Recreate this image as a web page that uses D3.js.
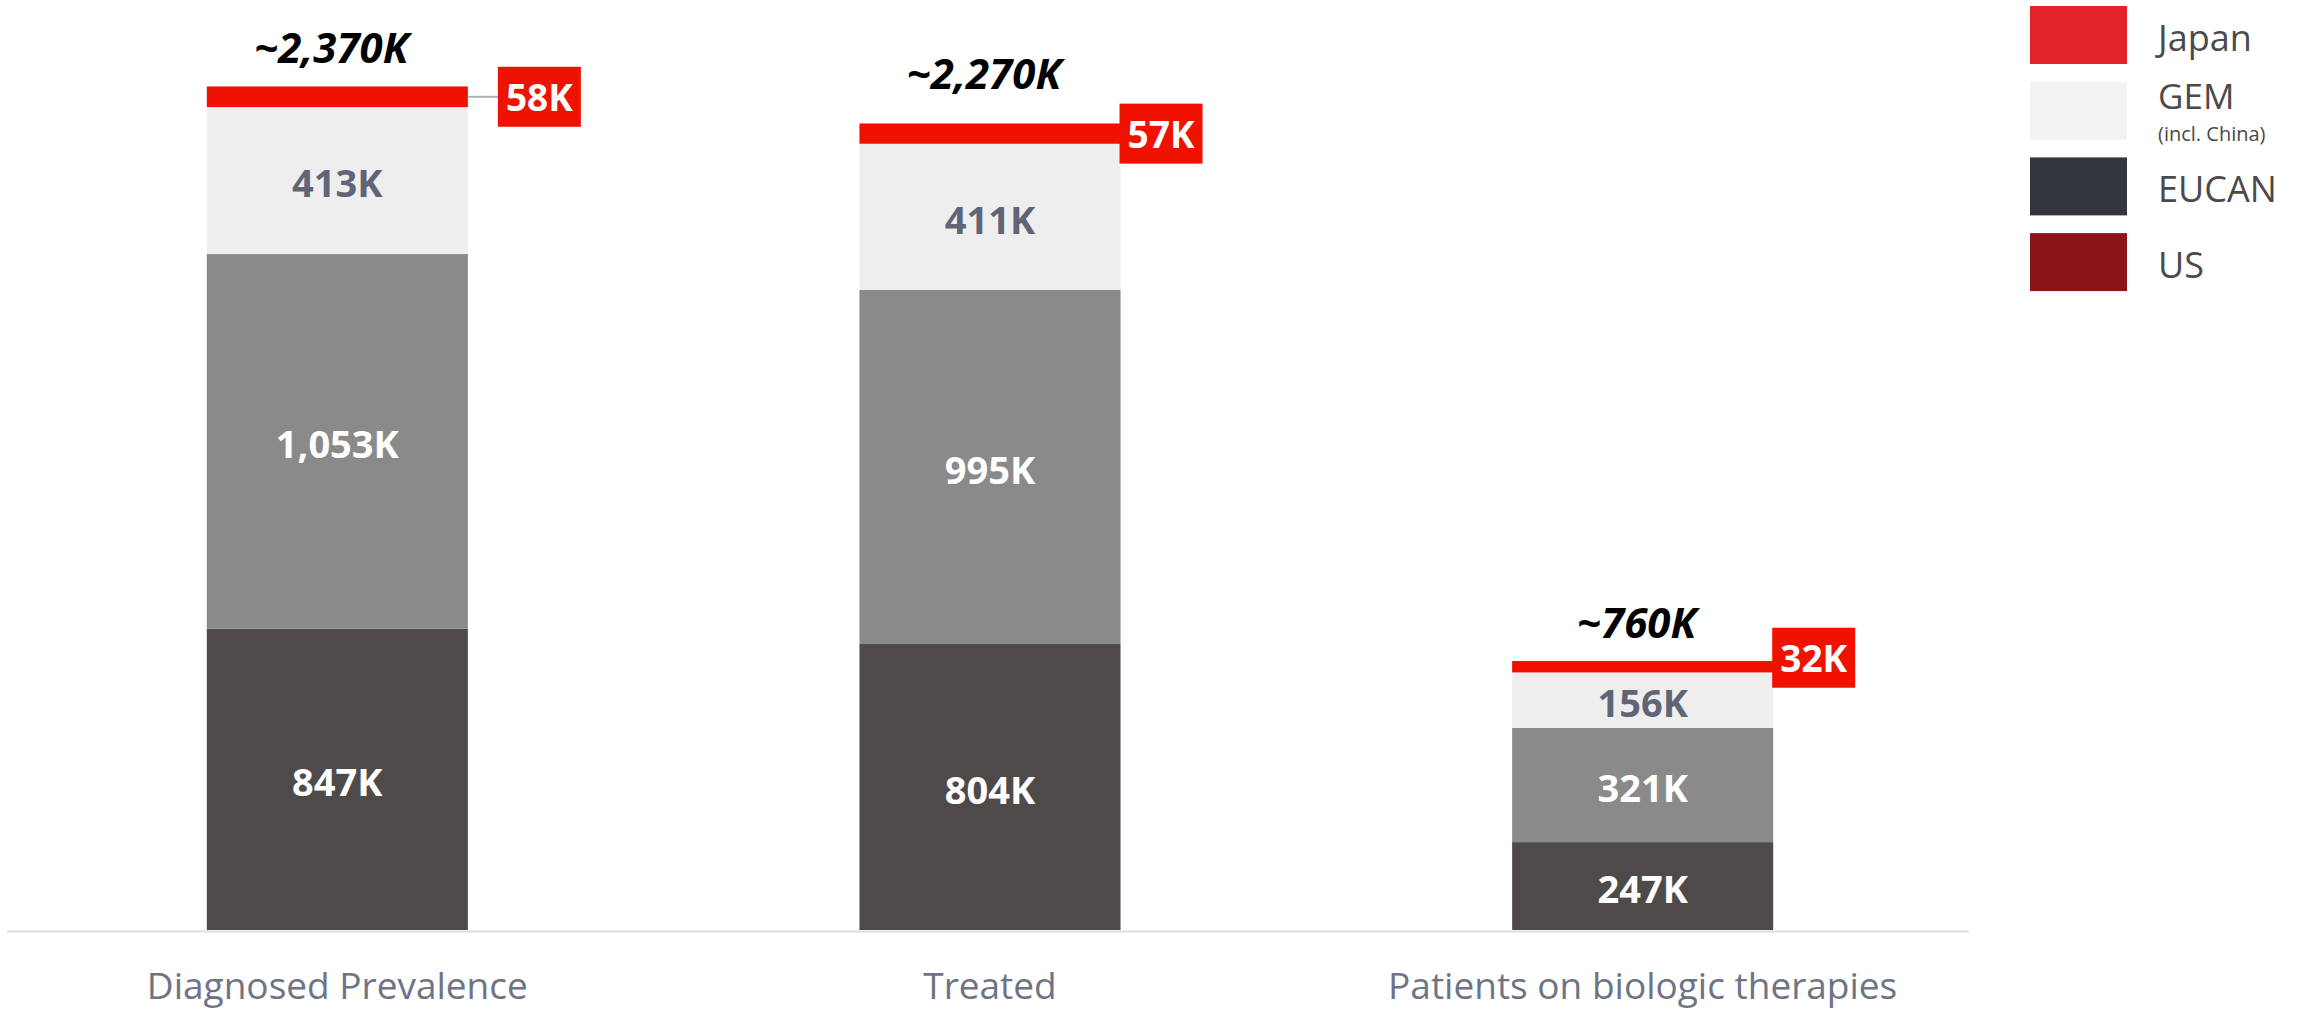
<!DOCTYPE html>
<meta charset="utf-8">
<style>
body { margin: 0; background: #fff; }
text { font-family: "Open Sans", sans-serif; }
.seg text { font-weight: 700; text-anchor: middle; }
.total { font-weight: 700; font-style: italic; text-anchor: middle; fill: #000; }
.cat { fill: #6e7485; text-anchor: middle; }
.legend text { fill: #4a4a4a; }
</style>
<svg width="2310" height="1009"></svg>
<script src="https://d3js.org/d3.v7.min.js"></script>
<script>

var categories = ["Diagnosed Prevalence", "Treated", "Patients on biologic therapies"];
var us = [847, 804, 247];
var eucan = [1053, 995, 321];
var gem = [413, 411, 156];
var japan = [58, 57, 32];
var totals = ["~2,370K", "~2,270K", "~760K"];

var seriesKeys = ["US", "EUCAN", "GEM", "Japan"];
var legendNames = ["Japan", "GEM", "EUCAN", "US"];

var barColor = { US: "#4e4a49", EUCAN: "#8a8a8a", GEM: "#eeeeee", Japan: "#f01200" };
var legendColor = { Japan: "#e2232a", GEM: "#f2f2f2", EUCAN: "#33363d", US: "#8b1416" };

// layout tweaks for the red call-out boxes and the total labels
var boxDx = [30, -1, -1],
    boxDy = [0, 0, -9],
    totalLift = [23, 34, 23];

var svg = d3.select("svg");

var rows = categories.map(function(c, i) {
  return { cat: c, US: us[i], EUCAN: eucan[i], GEM: gem[i], Japan: japan[i] };
});

var x = d3.scaleBand()
    .domain(categories)
    .range([11, 1969])
    .paddingInner(0.6)
    .paddingOuter(0.3);

var y = d3.scaleLinear()
    .domain([0, 2600])
    .range([930, 5]);

var stack = d3.stack().keys(seriesKeys);
var layers = stack(rows);

// baseline
svg.append("line")
    .attr("x1", 7).attr("x2", 1969)
    .attr("y1", 931.5).attr("y2", 931.5)
    .attr("stroke", "#dcdde1")
    .attr("stroke-width", 2);

var seg = svg.selectAll(".seg")
  .data(layers)
  .enter().append("g")
    .attr("class", "seg");

seg.selectAll("rect")
  .data(function(d) { return d.map(function(p) { p.key = d.key; return p; }); })
  .enter().append("rect")
    .attr("x", function(d) { return x(d.data.cat); })
    .attr("width", x.bandwidth())
    .attr("y", function(d) { return y(d[1]); })
    .attr("height", function(d) { return y(d[0]) - y(d[1]); })
    .attr("fill", function(d) { return barColor[d.key]; });

// inside labels (not for Japan)
seg.filter(function(d) { return d.key != "Japan"; })
  .selectAll("text")
  .data(function(d) { return d; })
  .enter().append("text")
    .attr("x", function(d) { return x(d.data.cat) + x.bandwidth() / 2; })
    .attr("y", function(d) { return (y(d[0]) + y(d[1])) / 2 + 3; })
    .attr("dy", "0.36em")
    .style("font-size", "38px")
    .attr("fill", function(d) { return d.key == "GEM" ? "#5f6577" : "#fff"; })
    .text(function(d) { return d3.format(",")(d.data[d.key]) + "K"; });

// Japan call-out boxes
var jp = layers[3];
var callout = svg.selectAll(".callout")
  .data(jp)
  .enter().append("g")
    .attr("class", "callout");

function jpMid(d) { return (y(d[0]) + y(d[1])) / 2; }
function barRight(d) { return x(d.data.cat) + x.bandwidth(); }

callout.filter(function(d, i) { return boxDx[i] > 0; })
  .append("line")
    .attr("x1", barRight)
    .attr("x2", function(d, i) { return barRight(d) + boxDx[0]; })
    .attr("y1", jpMid)
    .attr("y2", jpMid)
    .attr("stroke", "#aab0bb")
    .attr("stroke-width", 2);

callout.append("rect")
    .attr("x", function(d, i) { return barRight(d) + boxDx[i]; })
    .attr("y", function(d, i) { return jpMid(d) + boxDy[i] - 30; })
    .attr("width", 83)
    .attr("height", 60)
    .attr("fill", barColor.Japan);

callout.append("text")
    .attr("x", function(d, i) { return barRight(d) + boxDx[i] + 41.5; })
    .attr("y", function(d, i) { return jpMid(d) + boxDy[i] + 1; })
    .attr("dy", "0.36em")
    .attr("text-anchor", "middle")
    .style("font-size", "37px")
    .style("font-weight", 700)
    .attr("fill", "#fff")
    .text(function(d) { return d.data.Japan + "K"; });

// totals
svg.selectAll(".total")
  .data(jp)
  .enter().append("text")
    .attr("class", "total")
    .attr("x", function(d) { return x(d.data.cat) + x.bandwidth() / 2 - 6; })
    .attr("y", function(d, i) { return y(d[1]) - totalLift[i]; })
    .style("font-size", "42px")
    .text(function(d, i) { return totals[i]; });

// category labels
svg.selectAll(".cat")
  .data(categories)
  .enter().append("text")
    .attr("class", "cat")
    .attr("x", function(d) { return x(d) + x.bandwidth() / 2; })
    .attr("y", 999)
    .style("font-size", "37px")
    .text(function(d) { return d; });

// legend
var legend = svg.append("g").attr("class", "legend")
    .attr("transform", "translate(2030,6)");

var item = legend.selectAll("g")
  .data(legendNames)
  .enter().append("g")
    .attr("transform", function(d, i) { return "translate(0," + i * 75.7 + ")"; });

item.append("rect")
    .attr("width", 97)
    .attr("height", 58)
    .attr("fill", function(d) { return legendColor[d]; });

item.append("text")
    .attr("x", 128)
    .attr("y", function(d) { return d == "GEM" ? 27 : 45; })
    .style("font-size", function(d) { return d == "GEM" ? "35px" : "36px"; })
    .text(function(d) { return d; });

item.filter(function(d) { return d == "GEM"; })
  .append("text")
    .attr("x", 128)
    .attr("y", 59)
    .style("font-size", "20px")
    .text("(incl. China)");

</script>
